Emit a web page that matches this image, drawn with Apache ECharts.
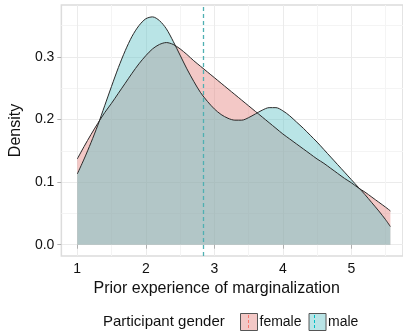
<!DOCTYPE html>
<html><head><meta charset="utf-8">
<script src="https://cdn.jsdelivr.net/npm/echarts@6/dist/echarts.min.js"></script>
<style>html,body{margin:0;padding:0;background:#fff}#c{width:403px;height:334px}</style>
</head><body><div id="c"></div>
<script>
const xValues = [1.0,1.1,1.2,1.3,1.4,1.5,1.6,1.7,1.8,1.9,2.0,2.1,2.2,2.3,2.4,2.5,2.6,2.7,2.8,2.9,3.0,3.1,3.2,3.3,3.4,3.5,3.6,3.7,3.8,3.9,4.0,4.1,4.2,4.3,4.4,4.5,4.6,4.7,4.8,4.9,5.0,5.1,5.2,5.3,5.4,5.5,5.57];
const femaleDensity = [0.137,0.157,0.176,0.194,0.211,0.226,0.242,0.258,0.274,0.289,0.302,0.313,0.320,0.323,0.320,0.313,0.304,0.294,0.285,0.276,0.267,0.258,0.249,0.240,0.231,0.222,0.213,0.204,0.195,0.186,0.177,0.169,0.161,0.153,0.145,0.137,0.130,0.122,0.114,0.106,0.099,0.091,0.084,0.076,0.068,0.060,0.054];
const maleDensity = [0.113,0.137,0.163,0.191,0.222,0.253,0.283,0.310,0.333,0.350,0.361,0.364,0.358,0.345,0.325,0.303,0.281,0.261,0.243,0.229,0.217,0.208,0.202,0.199,0.199,0.203,0.209,0.215,0.219,0.219,0.214,0.206,0.196,0.186,0.175,0.164,0.152,0.140,0.128,0.116,0.104,0.092,0.080,0.067,0.054,0.040,0.029];
const meanLine = 2.84;
const xMajorTicks = [1,2,3,4,5];
const xMinorTicks = [1.5,2.5,3.5,4.5,5.5];
const yMajorTicks = [0,0.1,0.2,0.3];
const yMinorTicks = [0.05,0.15,0.25,0.35];
const seriesNames = ['female','male'];
const legendTitle = 'Participant gender';
const xTitle = 'Prior experience of marginalization';
const yTitle = 'Density';

const FONT = 'Liberation Sans';
const femaleFill = 'rgba(228,133,128,0.45)';
const maleFill = 'rgba(99,195,199,0.45)';
const femaleKey = 'rgb(243,200,198)';
const maleKey = 'rgb(185,228,230)';
const xMin = 0.768, xMax = 5.754, yMin = -0.018, yMax = 0.383;

const chart = echarts.init(document.getElementById('c'), null, {renderer:'canvas'});
const pairs = arr => xValues.map((x,i)=>[x,arr[i]]);

chart.setOption({
  animation:false,
  backgroundColor:'#fff',
  textStyle:{fontFamily:FONT},
  grid:{left:59,right:0,top:5,bottom:78,show:true,borderColor:'#dcdcdc',borderWidth:1.5,backgroundColor:'transparent'},
  xAxis:[{
    type:'value',min:xMin,max:xMax,
    name:xTitle,nameLocation:'middle',nameGap:22,
    nameTextStyle:{fontSize:16,color:'#111',fontFamily:FONT,padding:[0,31,0,0]},
    axisLine:{show:false},
    axisTick:{show:true,length:4,lineStyle:{color:'#b0b0b0'},customValues:xMajorTicks},
    axisLabel:{fontSize:14,color:'#111',margin:6,fontFamily:FONT,customValues:xMajorTicks,formatter:v=>String(v)},
    splitLine:{show:true,lineStyle:{color:'#ebebeb',width:1}}
  },{
    type:'value',min:xMin,max:xMax,position:'bottom',
    axisLine:{show:false},axisLabel:{show:false,customValues:xMinorTicks},
    axisTick:{show:false,customValues:xMinorTicks},
    splitLine:{show:true,lineStyle:{color:'#f4f4f4',width:1}}
  }],
  yAxis:[{
    type:'value',min:yMin,max:yMax,
    name:yTitle,nameLocation:'middle',nameGap:34,nameRotate:90,
    nameTextStyle:{fontSize:16,color:'#111',fontFamily:FONT},
    axisLine:{show:false},
    axisTick:{show:true,length:4,lineStyle:{color:'#b0b0b0'},customValues:yMajorTicks},
    axisLabel:{fontSize:14,color:'#111',margin:7,fontFamily:FONT,customValues:yMajorTicks,formatter:v=>v.toFixed(1)},
    splitLine:{show:true,lineStyle:{color:'#ebebeb',width:1}}
  },{
    type:'value',min:yMin,max:yMax,position:'left',
    axisLine:{show:false},axisLabel:{show:false,customValues:yMinorTicks},
    axisTick:{show:false,customValues:yMinorTicks},
    splitLine:{show:true,lineStyle:{color:'#f4f4f4',width:1}}
  }],
  legend:{
    left:240,top:313,padding:0,itemWidth:17,itemHeight:17,itemGap:7,icon:'rect',
    textStyle:{fontSize:14,color:'#111',fontFamily:FONT,padding:[0,0,0,-3]},
    data:[
      {name:seriesNames[0],itemStyle:{color:femaleKey,borderColor:'#555',borderWidth:1}},
      {name:seriesNames[1],itemStyle:{color:maleKey,borderColor:'#555',borderWidth:1}}
    ]
  },
  graphic:[
    {type:'text',left:103,top:314,style:{text:legendTitle,font:'15px "Liberation Sans"',fill:'#111'}},
    {type:'line',shape:{x1:248.5,y1:315,x2:248.5,y2:330},style:{stroke:'#F8766D',lineWidth:1,lineDash:[3,2]},z:100},
    {type:'line',shape:{x1:314.5,y1:315,x2:314.5,y2:330},style:{stroke:'#00BFC4',lineWidth:1,lineDash:[3,2]},z:100}
  ],
  series:[
    {name:seriesNames[0],type:'line',data:pairs(femaleDensity),smooth:0.3,showSymbol:false,symbol:'none',
     itemStyle:{color:femaleKey},
     lineStyle:{color:'#2a2a2a',width:1},areaStyle:{color:femaleFill,origin:0,opacity:1}},
    {name:seriesNames[1],type:'line',data:pairs(maleDensity),smooth:0.3,showSymbol:false,symbol:'none',
     itemStyle:{color:maleKey},
     lineStyle:{color:'#2a2a2a',width:1},areaStyle:{color:maleFill,origin:0,opacity:1},
     markLine:{silent:true,symbol:'none',label:{show:false},
       lineStyle:{color:'#4fb0b2',type:[4,3],width:1.3},
       data:[{xAxis:meanLine}]}}
  ]
});
</script></body></html>
